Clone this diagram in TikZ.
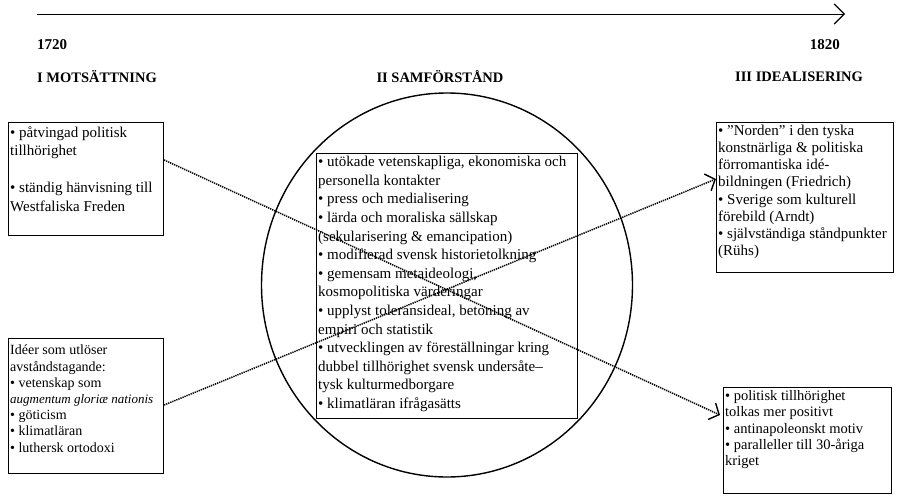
\documentclass[tikz,border=0pt]{standalone}
\usepackage{fontspec}
\setmainfont{Liberation Serif}
\usetikzlibrary{arrows.meta,shapes.geometric}
\begin{document}
\begin{tikzpicture}[x=1pt,y=-1pt,
  box/.style={draw, line width=1.1pt, rectangle, anchor=north west, inner sep=0pt},
  txt/.style={anchor=north west, align=left, inner sep=0pt, font=\fontsize{14}{16.2}\selectfont},
  rtxt/.style={anchor=north west, align=left, inner sep=0pt, font=\fontsize{15}{17.1}\selectfont},
  r2txt/.style={anchor=north west, align=left, inner sep=0pt, font=\fontsize{14.5}{16.4}\selectfont},
  ctxt/.style={anchor=north west, align=left, inner sep=0pt, font=\fontsize{15}{18.6}\selectfont},
  conn/.style={dash pattern=on 1.3pt off 0.9pt, line width=1.5pt, -{Straight Barb[length=8pt,width=18pt,line width=1.4pt]}},
  head/.style={font=\bfseries\fontsize{14.5}{16}\selectfont, inner sep=0pt},
  year/.style={font=\bfseries\fontsize{15}{17}\selectfont, inner sep=0pt}]
\useasboundingbox (0,0) rectangle (898,498);

% timeline
\coordinate (tl) at (37,14);
\coordinate (tr) at (845,14);
\draw[line width=1pt, -{Straight Barb[length=10pt,width=20pt,line width=1.1pt]}] (tl) -- (tr);
\node[year, anchor=west] (y1) at (37,45) {1720};
\node[year, anchor=east] (y2) at (840,45) {1820};

% headers
\node[head, anchor=west] (h1) at (37,77) {I MOTSÄTTNING};
\node[head] (h2) at (440,77) {II SAMFÖRSTÅND};
\node[head, anchor=west] (h3) at (735,77) {III IDEALISERING};

% circle
\node[ellipse, draw, line width=1.4pt, minimum width=371, minimum height=384, inner sep=0pt] (circ) at (447,285) {};

% boxes
\node[box, minimum width=155, minimum height=113] (l1) at (8,122) {};
\node[box, minimum width=155, minimum height=135] (l2) at (8,338) {};
\node[box, minimum width=261, minimum height=265] (c) at (316,153) {};
\node[box, minimum width=177, minimum height=150] (r1) at (716,122) {};
\node[box, minimum width=168, minimum height=106] (r2) at (723,387) {};

% texts
\node[ctxt] (l1t) at ([shift={(2,4)}]l1.north west) {%
• påtvingad politisk\\
tillhörighet\\[18.3pt]
• ständig hänvisning till\\
Westfaliska Freden};

\node[txt] (l2t) at ([shift={(2,7)}]l2.north west) {%
Idéer som utlöser\\
avståndstagande:\\
• vetenskap som\\
{\fontsize{13}{16.2}\selectfont\textit{augmentum gloriæ nationis}}\\
• göticism\\
• klimatläran\\
• luthersk ortodoxi};

\node[ctxt] (ct) at ([shift={(2,3)}]c.north west) {%
• utökade vetenskapliga, ekonomiska och\\
personella kontakter\\
• press och medialisering\\
• lärda och moraliska sällskap\\
(sekularisering \& emancipation)\\
• modifierad svensk historietolkning\\
• gemensam metaideologi,\\
kosmopolitiska värderingar\\
• upplyst toleransideal, betoning av\\
empiri och statistik\\
• utvecklingen av föreställningar kring\\
dubbel tillhörighet svensk undersåte–\\
tysk kulturmedborgare\\
• klimatläran ifrågasätts};

\node[rtxt] (r1t) at ([shift={(2,3)}]r1.north west) {%
• ”Norden” i den tyska\\
konstnärliga \& politiska\\
förromantiska idé-\\
bildningen (Friedrich)\\
• Sverige som kulturell\\
förebild (Arndt)\\
• självständiga ståndpunkter\\
(Rühs)};

\node[r2txt] (r2t) at ([shift={(2,3)}]r2.north west) {%
• politisk tillhörighet\\
tolkas mer positivt\\
• antinapoleonskt motiv\\
• paralleller till 30-åriga\\
kriget};

% connectors
\coordinate (a1) at ([yshift=-38pt]l1.north east);
\coordinate (a2) at ([shift={(-3pt,-28pt)}]r2.north west);
\coordinate (b1) at ([yshift=-67pt]l2.north east);
\coordinate (b2) at ([yshift=-57pt]r1.north west);
\draw[conn] (a1) -- (a2);
\draw[conn] (b1) -- (b2);
\end{tikzpicture}
\end{document}
